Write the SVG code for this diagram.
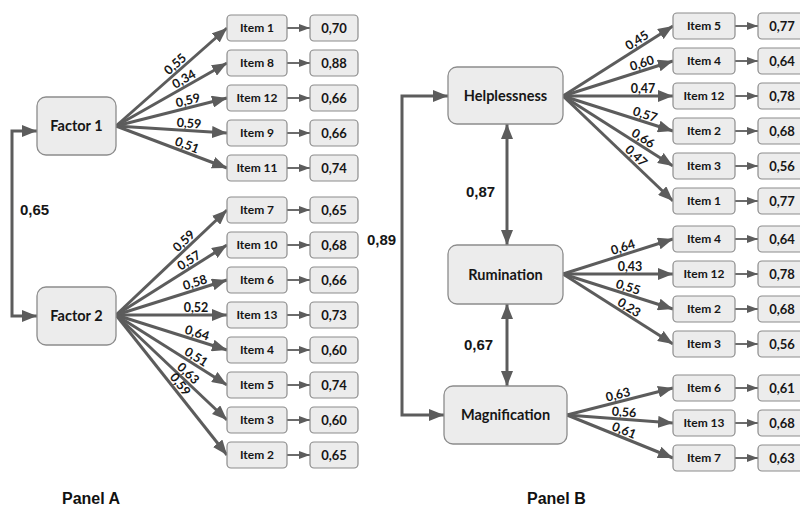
<svg xmlns="http://www.w3.org/2000/svg" width="800" height="513" viewBox="0 0 800 513">
<style>
.bg{fill:#ffffff}
.fac rect{fill:#ececec;stroke:#8c8c8c;stroke-width:1.3}
.fac text{font-family:Lato,"Liberation Sans",sans-serif;font-weight:bold;font-size:14.5px;fill:#161616;text-anchor:middle}
.it rect{fill:#ececec;stroke:#8c8c8c;stroke-width:1.2}
.it text{font-family:Lato,"Liberation Sans",sans-serif;font-weight:bold;font-size:12px;fill:#161616;text-anchor:middle}
.val rect{fill:#ececec;stroke:#8c8c8c;stroke-width:1.2}
.val text{font-family:Lato,"Liberation Sans",sans-serif;font-weight:bold;font-size:13px;fill:#161616;text-anchor:middle}
.ln{stroke:#5c5c5c;stroke-width:3;fill:none}
.sm{stroke:#5c5c5c;stroke-width:1.8;fill:none}
.lab{font-family:Lato,"Liberation Sans",sans-serif;font-weight:bold;font-size:12.5px;fill:#161616;text-anchor:middle}
.big{font-family:"Liberation Sans",Arial,sans-serif;font-weight:bold;font-size:15px;fill:#161616}
.pan{font-family:"Liberation Sans",Arial,sans-serif;font-weight:bold;font-size:16px;fill:#111}
</style>
<defs>
<marker id="ah" markerUnits="userSpaceOnUse" markerWidth="16" markerHeight="12" refX="15" refY="6" orient="auto-start-reverse"><path d="M0,0 L15,6 L0,12 z" fill="#5c5c5c"/></marker>
<marker id="as" markerUnits="userSpaceOnUse" markerWidth="11" markerHeight="8" refX="11" refY="4" orient="auto"><path d="M0,0 L11,4 L0,8 z" fill="#5c5c5c"/></marker>
</defs>
<rect class="bg" x="0" y="0" width="800" height="513"/>

<g id="connectors">
<path class="ln" d="M37,131 H12 V316 H37" marker-start="url(#ah)" marker-end="url(#ah)"/>
<line class="ln" x1="116" y1="126" x2="227" y2="28" marker-end="url(#ah)"/>
<line class="ln" x1="116" y1="126" x2="227" y2="63" marker-end="url(#ah)"/>
<line class="ln" x1="116" y1="126" x2="227" y2="98" marker-end="url(#ah)"/>
<line class="ln" x1="116" y1="126" x2="227" y2="133" marker-end="url(#ah)"/>
<line class="ln" x1="116" y1="126" x2="227" y2="168" marker-end="url(#ah)"/>
<line class="ln" x1="116" y1="315" x2="227" y2="210" marker-end="url(#ah)"/>
<line class="ln" x1="116" y1="315" x2="227" y2="245" marker-end="url(#ah)"/>
<line class="ln" x1="116" y1="315" x2="227" y2="280" marker-end="url(#ah)"/>
<line class="ln" x1="116" y1="315" x2="227" y2="315" marker-end="url(#ah)"/>
<line class="ln" x1="116" y1="315" x2="227" y2="350" marker-end="url(#ah)"/>
<line class="ln" x1="116" y1="315" x2="227" y2="385" marker-end="url(#ah)"/>
<line class="ln" x1="116" y1="315" x2="227" y2="420" marker-end="url(#ah)"/>
<line class="ln" x1="116" y1="315" x2="227" y2="455" marker-end="url(#ah)"/>
<g class="sm">
<line x1="287" y1="28" x2="310" y2="28" marker-end="url(#as)"/>
<line x1="287" y1="63" x2="310" y2="63" marker-end="url(#as)"/>
<line x1="287" y1="98" x2="310" y2="98" marker-end="url(#as)"/>
<line x1="287" y1="133" x2="310" y2="133" marker-end="url(#as)"/>
<line x1="287" y1="168" x2="310" y2="168" marker-end="url(#as)"/>
<line x1="287" y1="210" x2="310" y2="210" marker-end="url(#as)"/>
<line x1="287" y1="245" x2="310" y2="245" marker-end="url(#as)"/>
<line x1="287" y1="280" x2="310" y2="280" marker-end="url(#as)"/>
<line x1="287" y1="315" x2="310" y2="315" marker-end="url(#as)"/>
<line x1="287" y1="350" x2="310" y2="350" marker-end="url(#as)"/>
<line x1="287" y1="385" x2="310" y2="385" marker-end="url(#as)"/>
<line x1="287" y1="420" x2="310" y2="420" marker-end="url(#as)"/>
<line x1="287" y1="455" x2="310" y2="455" marker-end="url(#as)"/>
</g>
<path class="ln" d="M448,96 H402 V415 H444" marker-start="url(#ah)" marker-end="url(#ah)"/>
<line class="ln" x1="507" y1="124" x2="507" y2="245" marker-start="url(#ah)" marker-end="url(#ah)"/>
<line class="ln" x1="507" y1="304" x2="507" y2="386" marker-start="url(#ah)" marker-end="url(#ah)"/>
<line class="ln" x1="563" y1="96" x2="673" y2="26" marker-end="url(#ah)"/>
<line class="ln" x1="563" y1="96" x2="673" y2="61" marker-end="url(#ah)"/>
<line class="ln" x1="563" y1="96" x2="673" y2="96" marker-end="url(#ah)"/>
<line class="ln" x1="563" y1="96" x2="673" y2="131" marker-end="url(#ah)"/>
<line class="ln" x1="563" y1="96" x2="673" y2="166" marker-end="url(#ah)"/>
<line class="ln" x1="563" y1="96" x2="673" y2="201" marker-end="url(#ah)"/>
<line class="ln" x1="563" y1="274" x2="673" y2="239" marker-end="url(#ah)"/>
<line class="ln" x1="563" y1="274" x2="673" y2="274" marker-end="url(#ah)"/>
<line class="ln" x1="563" y1="274" x2="673" y2="309" marker-end="url(#ah)"/>
<line class="ln" x1="563" y1="274" x2="673" y2="344" marker-end="url(#ah)"/>
<line class="ln" x1="567" y1="415" x2="673" y2="388" marker-end="url(#ah)"/>
<line class="ln" x1="567" y1="415" x2="673" y2="423" marker-end="url(#ah)"/>
<line class="ln" x1="567" y1="415" x2="673" y2="458" marker-end="url(#ah)"/>
<g class="sm">
<line x1="735" y1="26" x2="758" y2="26" marker-end="url(#as)"/>
<line x1="735" y1="61" x2="758" y2="61" marker-end="url(#as)"/>
<line x1="735" y1="96" x2="758" y2="96" marker-end="url(#as)"/>
<line x1="735" y1="131" x2="758" y2="131" marker-end="url(#as)"/>
<line x1="735" y1="166" x2="758" y2="166" marker-end="url(#as)"/>
<line x1="735" y1="201" x2="758" y2="201" marker-end="url(#as)"/>
<line x1="735" y1="239" x2="758" y2="239" marker-end="url(#as)"/>
<line x1="735" y1="274" x2="758" y2="274" marker-end="url(#as)"/>
<line x1="735" y1="309" x2="758" y2="309" marker-end="url(#as)"/>
<line x1="735" y1="344" x2="758" y2="344" marker-end="url(#as)"/>
<line x1="735" y1="388" x2="758" y2="388" marker-end="url(#as)"/>
<line x1="735" y1="423" x2="758" y2="423" marker-end="url(#as)"/>
<line x1="735" y1="458" x2="758" y2="458" marker-end="url(#as)"/>
</g>
<g class="lab">
<text transform="translate(180,69.5) rotate(-41.4)" y="-3">0,55</text>
<text transform="translate(187.5,85.4) rotate(-29.6)" y="-3">0,34</text>
<text transform="translate(189.7,107.4) rotate(-14.2)" y="-3">0,59</text>
<text transform="translate(188.6,130.6) rotate(3.6)" y="-3">0,59</text>
<text transform="translate(184.5,151.9) rotate(20.7)" y="-3">0,51</text>
<text transform="translate(188.8,246.1) rotate(-43.4)" y="-3">0,59</text>
<text transform="translate(192.7,266.6) rotate(-32.2)" y="-3">0,57</text>
<text transform="translate(197.1,289.4) rotate(-17.5)" y="-3">0,58</text>
<text transform="translate(196,315)" y="-3">0,52</text>
<text transform="translate(194.9,339.9) rotate(17.5)" y="-3">0,64</text>
<text transform="translate(192.3,363.1) rotate(32.2)" y="-3">0,51</text>
<text transform="translate(183.2,378.6) rotate(43.4)" y="-3">0,63</text>
<text transform="translate(174.5,388.8) rotate(51.6)" y="-3">0,59</text>
<text transform="translate(640.8,46.5) rotate(-32.5)" y="-3">0,45</text>
<text transform="translate(644.1,70.2) rotate(-17.65)" y="-3">0,60</text>
<text transform="translate(643,96)" y="-3">0,47</text>
<text transform="translate(642.9,121.4) rotate(17.65)" y="-3">0,57</text>
<text transform="translate(639.2,144.5) rotate(32.5)" y="-3">0,66</text>
<text transform="translate(631.2,161.1) rotate(43.7)" y="-3">0,47</text>
<text transform="translate(625.1,254.2) rotate(-17.65)" y="-3">0,64</text>
<text transform="translate(630,274)" y="-3">0,43</text>
<text transform="translate(625.9,294) rotate(17.65)" y="-3">0,55</text>
<text transform="translate(625.2,313.6) rotate(32.5)" y="-3">0,23</text>
<text transform="translate(619.7,401.6) rotate(-14.3)" y="-3">0,63</text>
<text transform="translate(623.5,419.3) rotate(4.3)" y="-3">0,56</text>
<text transform="translate(621.4,437.1) rotate(22.1)" y="-3">0,61</text>
</g>
<text class="big" x="20" y="215">0,65</text>
<text class="big" x="367" y="245">0,89</text>
<text class="big" x="466" y="197">0,87</text>
<text class="big" x="464" y="350">0,67</text>
</g>

<g id="factor1" class="fac"><rect x="37" y="97" width="79" height="58" rx="9"/><text x="76.5" y="131">Factor 1</text></g>
<g id="factor2" class="fac"><rect x="37" y="287" width="79" height="58" rx="9"/><text x="76.5" y="321">Factor 2</text></g>

<g id="a_item1" class="it"><rect x="227" y="15" width="60" height="26" rx="4"/><text x="257" y="32">Item 1</text></g>
<g id="a_item8" class="it"><rect x="227" y="50" width="60" height="26" rx="4"/><text x="257" y="67">Item 8</text></g>
<g id="a_item12" class="it"><rect x="227" y="85" width="60" height="26" rx="4"/><text x="257" y="102">Item 12</text></g>
<g id="a_item9" class="it"><rect x="227" y="120" width="60" height="26" rx="4"/><text x="257" y="137">Item 9</text></g>
<g id="a_item11" class="it"><rect x="227" y="155" width="60" height="26" rx="4"/><text x="257" y="172">Item 11</text></g>
<g id="a_item7" class="it"><rect x="227" y="197" width="60" height="26" rx="4"/><text x="257" y="214">Item 7</text></g>
<g id="a_item10" class="it"><rect x="227" y="232" width="60" height="26" rx="4"/><text x="257" y="249">Item 10</text></g>
<g id="a_item6" class="it"><rect x="227" y="267" width="60" height="26" rx="4"/><text x="257" y="284">Item 6</text></g>
<g id="a_item13" class="it"><rect x="227" y="302" width="60" height="26" rx="4"/><text x="257" y="319">Item 13</text></g>
<g id="a_item4" class="it"><rect x="227" y="337" width="60" height="26" rx="4"/><text x="257" y="354">Item 4</text></g>
<g id="a_item5" class="it"><rect x="227" y="372" width="60" height="26" rx="4"/><text x="257" y="389">Item 5</text></g>
<g id="a_item3" class="it"><rect x="227" y="407" width="60" height="26" rx="4"/><text x="257" y="424">Item 3</text></g>
<g id="a_item2" class="it"><rect x="227" y="442" width="60" height="26" rx="4"/><text x="257" y="459">Item 2</text></g>

<g id="a_val1" class="val"><rect x="310" y="15" width="48" height="26" rx="4"/><text x="334" y="32.5">0,70</text></g>
<g id="a_val8" class="val"><rect x="310" y="50" width="48" height="26" rx="4"/><text x="334" y="67.5">0,88</text></g>
<g id="a_val12" class="val"><rect x="310" y="85" width="48" height="26" rx="4"/><text x="334" y="102.5">0,66</text></g>
<g id="a_val9" class="val"><rect x="310" y="120" width="48" height="26" rx="4"/><text x="334" y="137.5">0,66</text></g>
<g id="a_val11" class="val"><rect x="310" y="155" width="48" height="26" rx="4"/><text x="334" y="172.5">0,74</text></g>
<g id="a_val7" class="val"><rect x="310" y="197" width="48" height="26" rx="4"/><text x="334" y="214.5">0,65</text></g>
<g id="a_val10" class="val"><rect x="310" y="232" width="48" height="26" rx="4"/><text x="334" y="249.5">0,68</text></g>
<g id="a_val6" class="val"><rect x="310" y="267" width="48" height="26" rx="4"/><text x="334" y="284.5">0,66</text></g>
<g id="a_val13" class="val"><rect x="310" y="302" width="48" height="26" rx="4"/><text x="334" y="319.5">0,73</text></g>
<g id="a_val4" class="val"><rect x="310" y="337" width="48" height="26" rx="4"/><text x="334" y="354.5">0,60</text></g>
<g id="a_val5" class="val"><rect x="310" y="372" width="48" height="26" rx="4"/><text x="334" y="389.5">0,74</text></g>
<g id="a_val3" class="val"><rect x="310" y="407" width="48" height="26" rx="4"/><text x="334" y="424.5">0,60</text></g>
<g id="a_val2" class="val"><rect x="310" y="442" width="48" height="26" rx="4"/><text x="334" y="459.5">0,65</text></g>

<g id="helplessness" class="fac"><rect x="448" y="67" width="115" height="57" rx="9"/><text x="505.5" y="101">Helplessness</text></g>
<g id="rumination" class="fac"><rect x="448" y="245" width="115" height="59" rx="9"/><text x="505.5" y="280">Rumination</text></g>
<g id="magnification" class="fac"><rect x="444" y="386" width="123" height="58" rx="9"/><text x="505.5" y="420">Magnification</text></g>

<g id="h_item5" class="it"><rect x="673" y="13" width="62" height="26" rx="4"/><text x="704" y="30">Item 5</text></g>
<g id="h_item4" class="it"><rect x="673" y="48" width="62" height="26" rx="4"/><text x="704" y="65">Item 4</text></g>
<g id="h_item12" class="it"><rect x="673" y="83" width="62" height="26" rx="4"/><text x="704" y="100">Item 12</text></g>
<g id="h_item2" class="it"><rect x="673" y="118" width="62" height="26" rx="4"/><text x="704" y="135">Item 2</text></g>
<g id="h_item3" class="it"><rect x="673" y="153" width="62" height="26" rx="4"/><text x="704" y="170">Item 3</text></g>
<g id="h_item1" class="it"><rect x="673" y="188" width="62" height="26" rx="4"/><text x="704" y="205">Item 1</text></g>
<g id="r_item4" class="it"><rect x="673" y="226" width="62" height="26" rx="4"/><text x="704" y="243">Item 4</text></g>
<g id="r_item12" class="it"><rect x="673" y="261" width="62" height="26" rx="4"/><text x="704" y="278">Item 12</text></g>
<g id="r_item2" class="it"><rect x="673" y="296" width="62" height="26" rx="4"/><text x="704" y="313">Item 2</text></g>
<g id="r_item3" class="it"><rect x="673" y="331" width="62" height="26" rx="4"/><text x="704" y="348">Item 3</text></g>
<g id="m_item6" class="it"><rect x="673" y="375" width="62" height="26" rx="4"/><text x="704" y="392">Item 6</text></g>
<g id="m_item13" class="it"><rect x="673" y="410" width="62" height="26" rx="4"/><text x="704" y="427">Item 13</text></g>
<g id="m_item7" class="it"><rect x="673" y="445" width="62" height="26" rx="4"/><text x="704" y="462">Item 7</text></g>

<g id="h_val5" class="val"><rect x="758" y="13" width="48" height="26" rx="4"/><text x="782" y="30.5">0,77</text></g>
<g id="h_val4" class="val"><rect x="758" y="48" width="48" height="26" rx="4"/><text x="782" y="65.5">0,64</text></g>
<g id="h_val12" class="val"><rect x="758" y="83" width="48" height="26" rx="4"/><text x="782" y="100.5">0,78</text></g>
<g id="h_val2" class="val"><rect x="758" y="118" width="48" height="26" rx="4"/><text x="782" y="135.5">0,68</text></g>
<g id="h_val3" class="val"><rect x="758" y="153" width="48" height="26" rx="4"/><text x="782" y="170.5">0,56</text></g>
<g id="h_val1" class="val"><rect x="758" y="188" width="48" height="26" rx="4"/><text x="782" y="205.5">0,77</text></g>
<g id="r_val4" class="val"><rect x="758" y="226" width="48" height="26" rx="4"/><text x="782" y="243.5">0,64</text></g>
<g id="r_val12" class="val"><rect x="758" y="261" width="48" height="26" rx="4"/><text x="782" y="278.5">0,78</text></g>
<g id="r_val2" class="val"><rect x="758" y="296" width="48" height="26" rx="4"/><text x="782" y="313.5">0,68</text></g>
<g id="r_val3" class="val"><rect x="758" y="331" width="48" height="26" rx="4"/><text x="782" y="348.5">0,56</text></g>
<g id="m_val6" class="val"><rect x="758" y="375" width="48" height="26" rx="4"/><text x="782" y="392.5">0,61</text></g>
<g id="m_val13" class="val"><rect x="758" y="410" width="48" height="26" rx="4"/><text x="782" y="427.5">0,68</text></g>
<g id="m_val7" class="val"><rect x="758" y="445" width="48" height="26" rx="4"/><text x="782" y="462.5">0,63</text></g>

<text class="pan" x="62" y="504">Panel A</text>
<text class="pan" x="527" y="504">Panel B</text>
</svg>
